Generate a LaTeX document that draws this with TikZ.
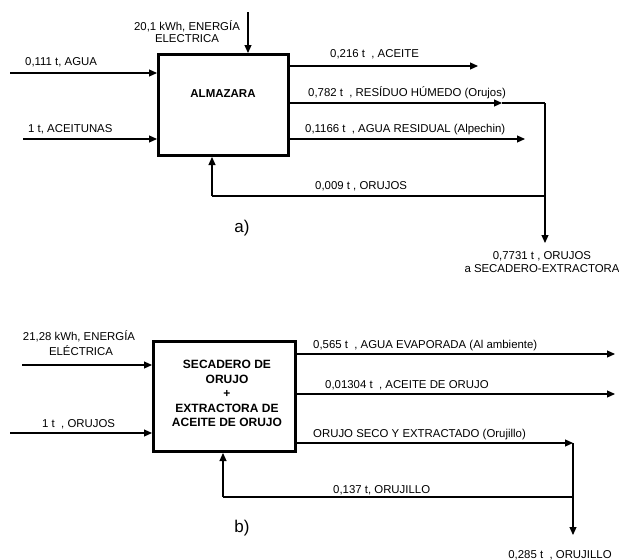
\documentclass[tikz,border=0pt]{standalone}
\usepackage{fontspec}
\setmainfont{Liberation Sans}
\usetikzlibrary{arrows.meta}
\begin{document}
\begin{tikzpicture}[x=1pt,y=-1pt,
  flow/.style={line width=1.1pt},
  arr/.style={flow,-{Triangle[length=8pt,width=7pt]}},
  unit/.style={draw,line width=3pt,inner sep=0pt},
  lbl/.style={font=\fontsize{11.4}{12.5}\selectfont,inner sep=0pt},
  unittitle/.style={font=\fontsize{12}{14.5}\selectfont\bfseries,inner sep=0pt,align=center},
  tag/.style={font=\fontsize{17}{20}\selectfont,inner sep=0pt}]
\useasboundingbox (0,0) rectangle (619,560);

% ---------------- a) olive mill ----------------
\node[unit,minimum width=130pt,minimum height=101pt] (alm) at (223.5,105) {};
\node[unittitle,anchor=base,font=\fontsize{11.5}{14}\selectfont\bfseries] (almT) at (223,97) {ALMAZARA};

% inputs
\coordinate (enS) at (248,12);
\draw[arr] (enS) -- (enS |- alm.north);
\node[lbl,anchor=base] (enL1) at (187,30) {20,1 kWh, ENERGÍA};
\node[lbl,anchor=base] (enL2) at (187,42) {ELECTRICA};

\coordinate (aguaS) at (10,73);
\draw[arr] (aguaS) -- (aguaS -| alm.west);
\node[lbl,anchor=base west] (aguaL) at (25,65) {0,111 t, AGUA};

\coordinate (aceS) at (23,139);
\draw[arr] (aceS) -- (aceS -| alm.west);
\node[lbl,anchor=base west] (aceL) at (28,132) {1 t, ACEITUNAS};

% outputs
\coordinate (aceiteE) at (478,66);
\draw[arr] (aceiteE -| alm.east) -- (aceiteE);
\node[lbl,anchor=base west] (aceiteL) at (330,57) {0,216 t \ , ACEITE};

\coordinate (resM) at (502,103);
\coordinate (resC) at (545,103);
\draw[arr] (resM -| alm.east) -- (resM);
\draw[flow] (resM) -- (resC);
\node[lbl,anchor=base west] (resL) at (308,96) {0,782 t \ , RESÍDUO HÚMEDO (Orujos)};

\coordinate (alpE) at (525,139);
\draw[arr] (alpE -| alm.east) -- (alpE);
\node[lbl,anchor=base west] (alpL) at (305,132) {0,1166 t \ , AGUA RESIDUAL (Alpechin)};

% recycled pomace and net outflow
\coordinate (recC) at (545,196);
\coordinate (recL) at (212,196);
\draw[flow] (recC) -- (recL);
\draw[arr] (recL) -- (recL |- alm.south);
\node[lbl,anchor=base west] (recLbl) at (315,189) {0,009 t , ORUJOS};

\coordinate (outE) at (545,243);
\draw[arr] (resC) -- (outE);
\node[lbl,anchor=base] (outL1) at (542,259) {0,7731 t , ORUJOS};
\node[lbl,anchor=base] (outL2) at (542,272) {a SECADERO-EXTRACTORA};

\node[tag,anchor=base] (tagA) at (242,232) {a)};

% ---------------- b) pomace dryer + extractor ----------------
\node[unit,minimum width=142pt,minimum height=110pt] (sec) at (224.5,396.5) {};
\node[unittitle] (secT) at (227,393.5) {SECADERO DE\\ORUJO\\+\\EXTRACTORA DE\\ACEITE DE ORUJO};

% inputs
\coordinate (en2S) at (22,365);
\draw[arr] (en2S) -- (en2S -| sec.west);
\node[lbl,anchor=base] (en2L1) at (79,340) {21,28 kWh, ENERGÍA};
\node[lbl,anchor=base] (en2L2) at (81,355) {ELÉCTRICA};

\coordinate (orS) at (10,433);
\draw[arr] (orS) -- (orS -| sec.west);
\node[lbl,anchor=base west] (orL) at (42,427) {1 t \ , ORUJOS};

% outputs
\coordinate (evE) at (615,354);
\draw[arr] (evE -| sec.east) -- (evE);
\node[lbl,anchor=base west] (evL) at (313,348) {0,565 t \ , AGUA EVAPORADA (Al ambiente)};

\coordinate (aoE) at (615,394);
\draw[arr] (aoE -| sec.east) -- (aoE);
\node[lbl,anchor=base west] (aoL) at (325,388) {0,01304 t \ , ACEITE DE ORUJO};

\coordinate (osC) at (573,443);
\draw[arr] (osC -| sec.east) -- (osC);
\node[lbl,anchor=base west] (osL) at (313,437) {ORUJO SECO Y EXTRACTADO (Orujillo)};

% recycled orujillo and net outflow
\coordinate (rbR) at (573,497);
\coordinate (rbL) at (223,497);
\draw[flow] (rbR) -- (rbL);
\draw[arr] (rbL) -- (rbL |- sec.south);
\node[lbl,anchor=base west] (rbLbl) at (333,493) {0,137 t, ORUJILLO};

\coordinate (osE) at (573,535);
\draw[arr] (osC) -- (osE);
\node[lbl,anchor=base] (osEL) at (560,558) {0,285 t \ , ORUJILLO};

\node[tag,anchor=base] (tagB) at (242,532) {b)};
\end{tikzpicture}
\end{document}
